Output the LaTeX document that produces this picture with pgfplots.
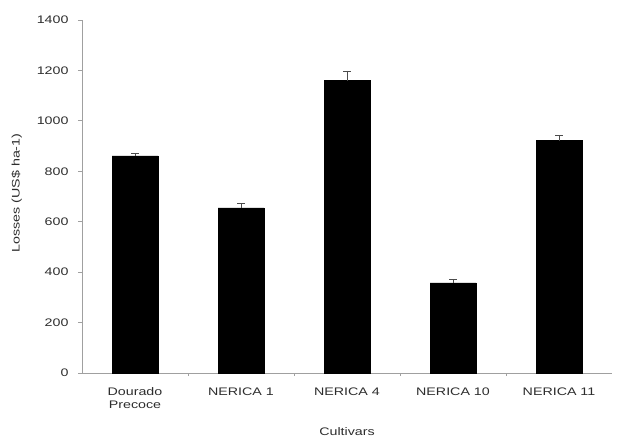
\documentclass[border=0pt]{standalone}
\usepackage{pgfplots}
\pgfplotsset{compat=1.18}
\usepackage{fontspec}
\setmainfont{Liberation Sans}[FakeStretch=1.3]
\definecolor{axgray}{RGB}{160,160,160}
\definecolor{txt}{RGB}{45,45,45}
\begin{document}
\begin{tikzpicture}
\begin{axis}[
  scale only axis,
  width=530bp, height=353bp,
  xmin=-0.5, xmax=4.5,
  ymin=0, ymax=1400,
  ytick={0,200,...,1400},
  xtick=data,
  xticklabels={{Dourado\\Precoce},NERICA 1,NERICA 4,NERICA 10,NERICA 11},
  xticklabel style={align=center, font=\fontsize{11}{13}\selectfont, text=txt, yshift=-7bp},
  yticklabel style={font=\fontsize{11}{13}\selectfont, text=txt, xshift=-6bp},
  /pgf/number format/assume math mode=true,
  /pgf/number format/set thousands separator={},
  scaled y ticks=false,
  axis x line*=bottom, axis y line*=left,
  axis line style={axgray, line width=1pt, -},
  major x tick style={draw=none},
  minor xtick={0.5,1.5,2.5,3.5},
  minor x tick style={axgray},
  minor tick length=3bp,
  y tick style={axgray, line width=0.8pt},
  tick align=outside,
  major tick length=4bp,
  xlabel={Cultivars},
  ylabel={Losses (US\$ ha-1)},
  label style={font=\fontsize{11}{13}\selectfont, text=txt},
  xlabel style={at={(axis description cs:0.5,-0.167)}, anchor=center},
  ylabel style={at={(axis description cs:-0.123,0.51)}, anchor=center, rotate=0},
  ybar, bar width=46bp,
]
\addplot[fill=black, draw=black,
  error bars/.cd, y dir=plus, y explicit,
  error bar style={draw=black!70, line width=0.8pt},
  error mark options={rotate=90, mark size=4bp, draw=black!70, line width=0.8pt}]
  coordinates {
  (0,861) +- (0,8)
  (1,655) +- (0,17)
  (2,1160) +- (0,38)
  (3,357) +- (0,15)
  (4,922) +- (0,21)
};
\end{axis}
\path ([xshift=-82bp,yshift=-66bp]current axis.south west) rectangle ([xshift=7bp,yshift=20bp]current axis.north east);
\end{tikzpicture}
\end{document}
